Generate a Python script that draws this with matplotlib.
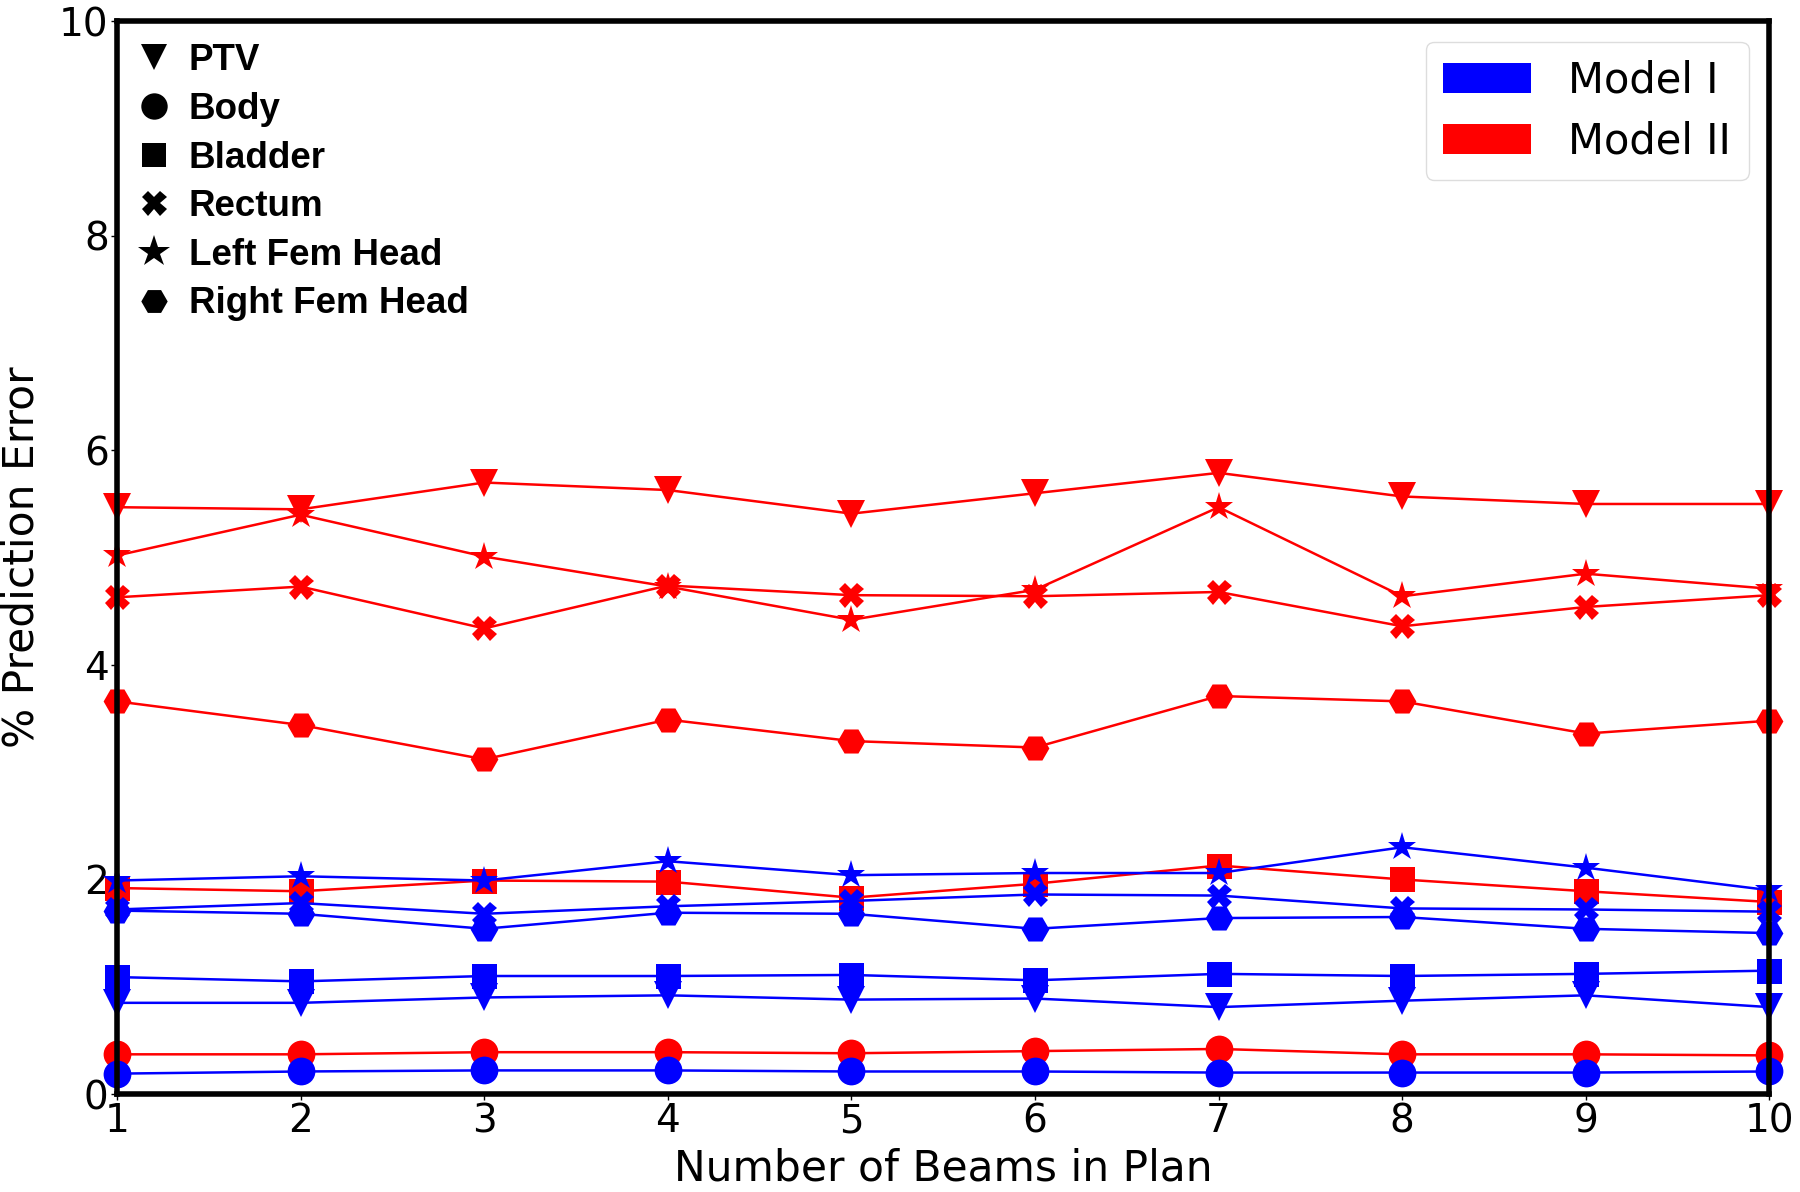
import matplotlib
matplotlib.use("Agg")
import matplotlib.pyplot as plt
from matplotlib.lines import Line2D
from matplotlib.patches import Patch

beams = [1, 2, 3, 4, 5, 6, 7, 8, 9, 10]
structures = ["PTV", "Body", "Bladder", "Rectum", "Left Fem Head", "Right Fem Head"]
markers = ["v", "o", "s", "X", "*", "H"]

# Model I (blue)
m1_ptv = [0.85, 0.85, 0.90, 0.92, 0.88, 0.89, 0.81, 0.87, 0.92, 0.81]
m1_body = [0.19, 0.21, 0.22, 0.22, 0.21, 0.21, 0.20, 0.20, 0.20, 0.21]
m1_bladder = [1.09, 1.05, 1.10, 1.10, 1.11, 1.06, 1.12, 1.10, 1.12, 1.15]
m1_rectum = [1.72, 1.78, 1.68, 1.75, 1.80, 1.86, 1.85, 1.73, 1.72, 1.70]
m1_lfh = [1.99, 2.03, 1.99, 2.17, 2.04, 2.06, 2.06, 2.30, 2.11, 1.90]
m1_rfh = [1.71, 1.68, 1.54, 1.69, 1.68, 1.54, 1.64, 1.65, 1.54, 1.50]

# Model II (red)
m2_ptv = [5.47, 5.45, 5.70, 5.63, 5.41, 5.60, 5.79, 5.57, 5.50, 5.50]
m2_body = [0.37, 0.37, 0.39, 0.39, 0.38, 0.40, 0.42, 0.37, 0.37, 0.36]
m2_bladder = [1.92, 1.89, 1.99, 1.98, 1.83, 1.96, 2.13, 2.00, 1.89, 1.79]
m2_rectum = [4.63, 4.73, 4.34, 4.74, 4.65, 4.64, 4.68, 4.36, 4.54, 4.65]
m2_lfh = [5.02, 5.40, 5.01, 4.73, 4.42, 4.70, 5.47, 4.64, 4.85, 4.71]
m2_rfh = [3.66, 3.44, 3.12, 3.49, 3.29, 3.23, 3.71, 3.66, 3.36, 3.48]

model1 = [m1_ptv, m1_body, m1_bladder, m1_rectum, m1_lfh, m1_rfh]
model2 = [m2_ptv, m2_body, m2_bladder, m2_rectum, m2_lfh, m2_rfh]
model_labels = ["Model I", "Model II"]
xticks = list(range(1, 11))
yticks = [0, 2, 4, 6, 8, 10]

fig = plt.figure(figsize=(18, 11.92), dpi=100)
ax = fig.add_axes([0.065, 0.0822, 0.918, 0.900])

msizes = {"v": 20, "o": 20, "s": 18, "X": 18, "*": 21, "H": 20}
for vals, mk in zip(model2, markers):
    ax.plot(beams, vals, color="red", marker=mk, markersize=msizes[mk], linewidth=1.8,
            markeredgewidth=0, clip_on=False, zorder=3)
for vals, mk in zip(model1, markers):
    ax.plot(beams, vals, color="blue", marker=mk, markersize=msizes[mk], linewidth=1.8,
            markeredgewidth=0, clip_on=False, zorder=4)

ax.set_xlim(1, 10)
ax.set_ylim(0, 10)
ax.set_xticks(xticks)
ax.set_yticks(yticks)
ax.tick_params(labelsize=28, length=4, width=1, pad=2)
for s in ax.spines.values():
    s.set_linewidth(4)
    s.set_color("black")
    s.set_zorder(5)

ax.set_xlabel("Number of Beams in Plan", fontsize=30.5, labelpad=5)
ax.set_ylabel("% Prediction Error", fontsize=30.5, labelpad=12)

# structure marker legend
lsizes = {"v": 19, "o": 19, "s": 17, "X": 18, "*": 24, "H": 19}
shandles = [Line2D([], [], color="black", marker=mk, linestyle="none", markersize=lsizes[mk],
                   markeredgewidth=0) for mk in markers]
leg1 = ax.legend(shandles, structures, loc="upper left", frameon=False,
                 prop={"family": "Liberation Sans", "weight": "bold", "size": 26.5},
                 handlelength=0.8, handletextpad=0.55, labelspacing=0.37,
                 borderaxespad=0.2, bbox_to_anchor=(0.0, 1.0))
ax.add_artist(leg1)

mhandles = [Patch(facecolor="blue", edgecolor="none"), Patch(facecolor="red", edgecolor="none")]
leg2 = ax.legend(mhandles, model_labels, loc="upper right", fontsize=30,
                 handlelength=2.1, handleheight=0.75, handletextpad=0.9,
                 labelspacing=0.45, borderpad=0.42, borderaxespad=0.5,
                 fancybox=True, framealpha=1, edgecolor="#dddddd")

fig.savefig("out.png", dpi=100)
